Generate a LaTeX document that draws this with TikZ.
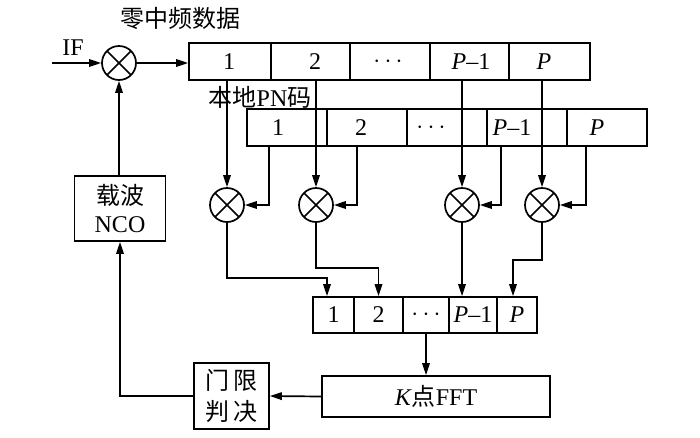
\documentclass[tikz,border=0pt]{standalone}
\usepackage{fontspec}
\setmainfont{Liberation Serif}
\newfontfamily\cjk{Noto Sans CJK SC}
\usetikzlibrary{arrows.meta,calc}
\newcommand\zhs[1]{{\cjk #1}}
\begin{document}
\begin{tikzpicture}[x=1pt,y=-1pt,
  every node/.style={font=\fontsize{24}{28}\selectfont, inner sep=0pt},
  ln/.style={line width=1.7pt},
  arr/.style={ln,-{Triangle[length=12pt,width=7.5pt]}},
  cell/.style={draw,ln,minimum height=37pt},
  cellb/.style={draw,ln,minimum height=36pt},
  box/.style={draw,ln,align=center},
  mix/.style={circle,draw,ln,minimum size=34pt,
    path picture={\draw[ln] (path picture bounding box.north west)--(path picture bounding box.south east)
      (path picture bounding box.north east)--(path picture bounding box.south west);}}
]
\useasboundingbox (0,0) rectangle (700,437);

% titles
\node (t0) at (180,18) {\zhs{零中频数据}};
\node (t1) at (260,97) {\zhs{本地}PN\zhs{码}};
\node (tif) at (73,48) {IF};

% IF mixer and NCO
\node[mix] (mx0) at (119,63) {};
\coordinate (ifin) at (52,63);
\node[box,minimum width=91pt,minimum height=65pt] (nco) at (120,208.5) {\zhs{载波}\\NCO};
\node[box,minimum width=75pt,minimum height=66pt,font=\fontsize{24}{31}\selectfont] (thr) at (231.5,396) {\zhs{门}\hspace{5pt}\zhs{限}\\\zhs{判}\hspace{5pt}\zhs{决}};
\node[box,minimum width=228pt,minimum height=41pt] (fft) at (436,396.5) {\textit{K}\zhs{点}FFT};

% row 1 (zero-IF data)
\node[cell,minimum width=82pt] (a1) at (230,61.5) {};
\node[cell,minimum width=79pt] (a2) at (310.5,61.5) {};
\node[cell,minimum width=80pt] (a3) at (390,61.5) {};
\node[cell,minimum width=79pt] (a4) at (469.5,61.5) {};
\node[cell,minimum width=81pt] (a5) at (549.5,61.5) {};
\node (la1) at (229,61.5) {1};
\node (la2) at (315,61.5) {2};
\node (la3) at (388,61.5) {$\cdots$};
\node (la4) at (471,61.5) {\textit{P}--1};
\node (la5) at (544,61.5) {\textit{P}};

% row 2 (local PN code)
\node[cell,minimum width=80pt] (b1) at (287,127.5) {};
\node[cell,minimum width=80pt] (b2) at (367,127.5) {};
\node[cell,minimum width=80pt] (b3) at (447,127.5) {};
\node[cell,minimum width=80pt] (b4) at (527,127.5) {};
\node[cell,minimum width=80pt] (b5) at (607,127.5) {};
\node (lb1) at (278,127.5) {1};
\node (lb2) at (361,127.5) {2};
\node (lb3) at (431,127.5) {$\cdots$};
\node (lb4) at (512,127.5) {\textit{P}--1};
\node (lb5) at (597,127.5) {\textit{P}};

% multipliers
\node[mix] (m1) at (227,205) {};
\node[mix] (m2) at (316,205) {};
\node[mix] (m3) at (462,205) {};
\node[mix] (m4) at (542,205) {};

% row 3 buffer
\node[cellb,minimum width=41pt] (c1) at (333.5,315) {1};
\node[cellb,minimum width=49pt] (c2) at (378.5,315) {2};
\node[cellb,minimum width=46pt] (c3) at (426,315) {$\cdots$};
\node[cellb,minimum width=48pt] (c4) at (473,315) {\textit{P}--1};
\node[cellb,minimum width=40pt] (c5) at (517,315) {\textit{P}};

% connectors
\draw[arr] (ifin) -- (mx0.west);
\draw[arr] (mx0.east) -- (mx0.east -| a1.west);
\draw[arr] (nco.north -| mx0) -- (mx0.south);

\draw[arr] (a1.south -| m1) -- (m1.north);
\draw[arr] (a2.south -| m2) -- (m2.north);
\draw[arr] (a4.south -| m3) -- (m3.north);
\draw[arr] (a5.south -| m4) -- (m4.north);

\draw[arr] ([xshift=-18pt]b1.south) |- (m1.east);
\draw[arr] ([xshift=-10pt]b2.south) |- (m2.east);
\draw[arr] ([xshift=-26pt]b4.south) |- (m3.east);
\draw[arr] ([xshift=-21pt]b5.south) |- (m4.east);

\draw[arr] (m1.south) -- ++(0,55) -| ([xshift=-6.5pt]c1.north);
\draw[arr] (m2.south) -- ++(0,45) -| (c2.north);
\draw[arr] (m3.south) -- (m3.south |- c4.north);
\draw[arr] (m4.south) -- ++(0,37) -| ([xshift=-4pt]c5.north);

\draw[arr] (c3.south) -- (c3.south |- fft.north);
\draw[arr] (fft.west) -- (thr.east);
\draw[arr] (thr.west) -| (nco.south);
\end{tikzpicture}
\end{document}
